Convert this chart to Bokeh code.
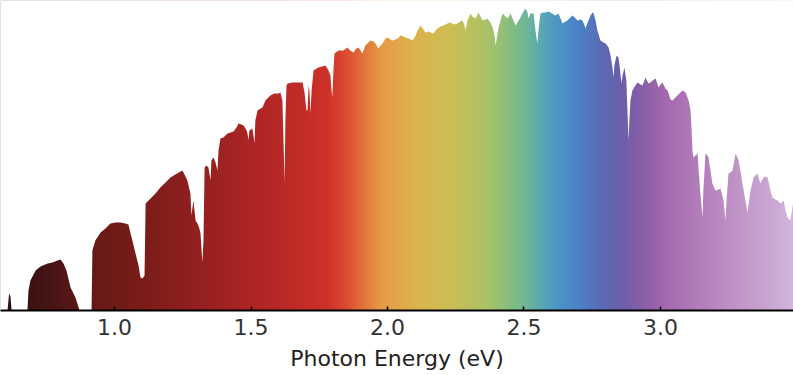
import numpy as np
from bokeh.plotting import figure
from bokeh.models import Range1d, FixedTicker, PrintfTickFormatter
from bokeh.embed import file_html
from bokeh.resources import INLINE

# Solar spectrum (photon energy in eV, irradiance in arbitrary units)
energy_ev = [
    0.608, 0.614, 0.619, 0.623, 0.681, 0.685, 0.692, 0.711, 0.729, 0.755, 0.773, 0.791, 0.802, 0.813,
    0.824, 0.839, 0.857, 0.872, 0.912, 0.916, 0.919, 0.930, 0.949, 0.967, 0.985, 1.004, 1.022, 1.040,
    1.051, 1.058, 1.070, 1.077, 1.088, 1.095, 1.103, 1.110, 1.114, 1.132, 1.150, 1.168, 1.187, 1.205,
    1.223, 1.242, 1.249, 1.260, 1.267, 1.278, 1.282, 1.289, 1.297, 1.304, 1.311, 1.315, 1.319, 1.322,
    1.326, 1.330, 1.337, 1.344, 1.352, 1.355, 1.363, 1.370, 1.377, 1.381, 1.388, 1.399, 1.414, 1.425,
    1.436, 1.447, 1.454, 1.465, 1.473, 1.484, 1.487, 1.491, 1.494, 1.505, 1.509, 1.513, 1.516, 1.524,
    1.535, 1.542, 1.553, 1.560, 1.571, 1.586, 1.601, 1.608, 1.615, 1.619, 1.623, 1.626, 1.630, 1.634,
    1.652, 1.670, 1.689, 1.696, 1.703, 1.707, 1.711, 1.714, 1.718, 1.722, 1.729, 1.747, 1.773, 1.784,
    1.791, 1.795, 1.798, 1.802, 1.806, 1.821, 1.839, 1.853, 1.864, 1.875, 1.886, 1.894, 1.901, 1.908,
    1.919, 1.930, 1.938, 1.949, 1.956, 1.967, 1.974, 1.982, 1.993, 2.000, 2.011, 2.018, 2.029, 2.037,
    2.048, 2.059, 2.066, 2.077, 2.092, 2.103, 2.110, 2.121, 2.132, 2.139, 2.150, 2.158, 2.168, 2.176,
    2.183, 2.194, 2.205, 2.220, 2.231, 2.242, 2.256, 2.267, 2.275, 2.282, 2.286, 2.293, 2.304, 2.311,
    2.322, 2.330, 2.333, 2.341, 2.348, 2.359, 2.366, 2.377, 2.385, 2.392, 2.396, 2.399, 2.407, 2.414,
    2.421, 2.432, 2.440, 2.447, 2.451, 2.458, 2.469, 2.476, 2.487, 2.494, 2.505, 2.513, 2.516, 2.524,
    2.535, 2.542, 2.549, 2.553, 2.560, 2.571, 2.579, 2.590, 2.597, 2.608, 2.615, 2.626, 2.634, 2.641,
    2.652, 2.659, 2.670, 2.678, 2.689, 2.696, 2.707, 2.714, 2.722, 2.725, 2.733, 2.744, 2.751, 2.755,
    2.762, 2.769, 2.780, 2.791, 2.799, 2.810, 2.817, 2.824, 2.828, 2.831, 2.839, 2.846, 2.850, 2.857,
    2.861, 2.868, 2.875, 2.879, 2.883, 2.886, 2.890, 2.897, 2.908, 2.916, 2.927, 2.934, 2.945, 2.956,
    2.963, 2.971, 2.982, 2.993, 3.000, 3.007, 3.018, 3.026, 3.037, 3.044, 3.055, 3.062, 3.073, 3.081,
    3.092, 3.103, 3.110, 3.114, 3.117, 3.121, 3.128, 3.136, 3.139, 3.146, 3.154, 3.157, 3.165, 3.172,
    3.176, 3.183, 3.190, 3.201, 3.212, 3.220, 3.231, 3.238, 3.242, 3.249, 3.256, 3.264, 3.275, 3.282,
    3.286, 3.293, 3.300, 3.311, 3.319, 3.322, 3.330, 3.341, 3.348, 3.355, 3.366, 3.377, 3.385, 3.392,
    3.403, 3.410, 3.421, 3.429, 3.440, 3.451, 3.458, 3.465, 3.476, 3.487,
]
irradiance = [
    0, 17, 14, 0, 0, 20, 30, 40, 44, 47, 48, 50, 51, 47,
    40, 23, 13, 0, 0, 0, 60, 70, 78, 82, 87, 88, 88, 87,
    86, 78, 65, 57, 45, 33, 32, 35, 107, 112, 117, 123, 128, 133,
    136, 139, 140, 134, 130, 117, 95, 110, 90, 87, 82, 77, 60, 48,
    70, 143, 145, 143, 130, 150, 153, 148, 140, 160, 172, 173, 177, 178,
    179, 183, 187, 186, 185, 180, 177, 170, 180, 182, 175, 167, 190, 200,
    202, 203, 210, 212, 215, 217, 217, 218, 210, 170, 127, 190, 225, 227,
    228, 228, 228, 218, 200, 200, 225, 220, 197, 220, 240, 243, 245, 240,
    235, 220, 213, 240, 257, 260, 260, 263, 260, 258, 262, 263, 260, 257,
    265, 268, 270, 269, 267, 262, 265, 267, 272, 273, 271, 270, 271, 272,
    275, 274, 273, 272, 270, 275, 280, 285, 281, 278, 279, 278, 277, 280,
    282, 284, 285, 287, 288, 286, 287, 289, 290, 285, 280, 290, 297, 294,
    292, 296, 298, 294, 290, 291, 292, 288, 283, 275, 265, 270, 283, 290,
    297, 294, 292, 295, 297, 292, 285, 288, 293, 297, 302, 298, 292, 297,
    297, 280, 267, 280, 297, 298, 298, 299, 298, 296, 295, 297, 292, 287,
    289, 290, 293, 295, 292, 290, 291, 290, 285, 282, 288, 295, 298, 297,
    290, 280, 270, 268, 267, 263, 255, 243, 233, 245, 255, 253, 245, 227,
    235, 243, 230, 200, 170, 190, 210, 220, 225, 228, 226, 225, 233, 227,
    228, 230, 232, 223, 226, 228, 222, 220, 211, 210, 213, 215, 218, 220,
    218, 210, 200, 180, 160, 153, 155, 157, 143, 117, 93, 120, 157, 155,
    153, 140, 127, 120, 121, 122, 110, 90, 110, 137, 138, 140, 157, 153,
    150, 140, 127, 110, 97, 105, 120, 133, 135, 137, 127, 133, 134, 133,
    120, 113, 111, 110, 107, 110, 100, 93, 90, 110,
]
tick_values = [1.0, 1.5, 2.0, 2.5, 3.0]

# colour stops of the rainbow fill (energy eV -> colour)
color_stop_ev = [0.58, 0.75, 0.95, 1.15, 1.32, 1.50, 1.65, 1.78, 1.86, 1.92, 1.98, 2.10, 2.22,
                 2.34, 2.42, 2.50, 2.56, 2.62, 2.70, 2.78, 2.86, 2.94, 3.02, 3.12, 3.25, 3.40, 3.49]
color_stop_hex = ["#2e0e0e", "#451414", "#6a1a17", "#7f1d1a", "#952020", "#ac2524", "#be2a27",
                  "#cd3028", "#dc5232", "#e3793c", "#e69c46", "#ddb24c", "#cdbd54", "#b2c162",
                  "#92c076", "#72b894", "#5aaab0", "#4c96c4", "#4c82c6", "#5a6cb6", "#6c5eaa",
                  "#8a5ea8", "#a468ae", "#b07ab8", "#bd8fc4", "#caa6d2", "#d2b6dc"]

X0, X1 = 0.5824, 3.4872
Y1 = 310

p = figure(width=793, height=375, x_range=Range1d(X0, X1), y_range=Range1d(0, Y1),
           output_backend="svg", toolbar_location=None, y_axis_location=None,
           min_border_left=0, min_border_right=0, min_border_top=0, min_border_bottom=65,
           background_fill_color="white", border_fill_color="white")
p.outline_line_color = None
p.xgrid.visible = False
p.ygrid.visible = False

# horizontal rainbow gradient image
N = 800
cols = X0 + (np.arange(N) + 0.5) / N * (X1 - X0)
rgb = np.array([[int(h[i:i + 2], 16) for i in (1, 3, 5)] for h in color_stop_hex], dtype=float)
img = np.empty((2, N), dtype=np.uint32)
view = img.view(dtype=np.uint8).reshape((2, N, 4))
for c in range(3):
    ch = np.interp(cols, color_stop_ev, rgb[:, c])
    view[:, :, c] = np.round(ch).astype(np.uint8)
view[:, :, 3] = 255
p.image_rgba(image=[img], x=X0, y=0, dw=X1 - X0, dh=Y1)

# white mask above the spectrum
mask_x = [energy_ev[0] - 0.05] + energy_ev + [energy_ev[-1] + 0.05, energy_ev[-1] + 0.05, energy_ev[0] - 0.05]
mask_y = [0] + irradiance + [irradiance[-1], Y1 + 100, Y1 + 100]
p.patch(x=mask_x, y=mask_y, fill_color="white", line_color=None)

ax = p.xaxis[0]
ax.ticker = FixedTicker(ticks=tick_values)
ax.formatter = PrintfTickFormatter(format="%.1f")
ax.axis_line_color = "black"
ax.axis_line_width = 2
ax.major_tick_in = 4
ax.major_tick_out = 0
ax.major_tick_line_color = "black"
ax.major_tick_line_width = 1.5
ax.minor_tick_line_color = None
ax.major_label_text_font = "DejaVu Sans"
ax.major_label_text_font_size = "22px"
ax.major_label_text_color = "#333333"
ax.major_label_standoff = 8
ax.axis_label = "Photon Energy (eV)"
ax.axis_label_text_font = "DejaVu Sans"
ax.axis_label_text_font_size = "22px"
ax.axis_label_text_font_style = "normal"
ax.axis_label_text_color = "#222222"
ax.axis_label_standoff = 8

open("out.html", "w").write(file_html(p, INLINE))
